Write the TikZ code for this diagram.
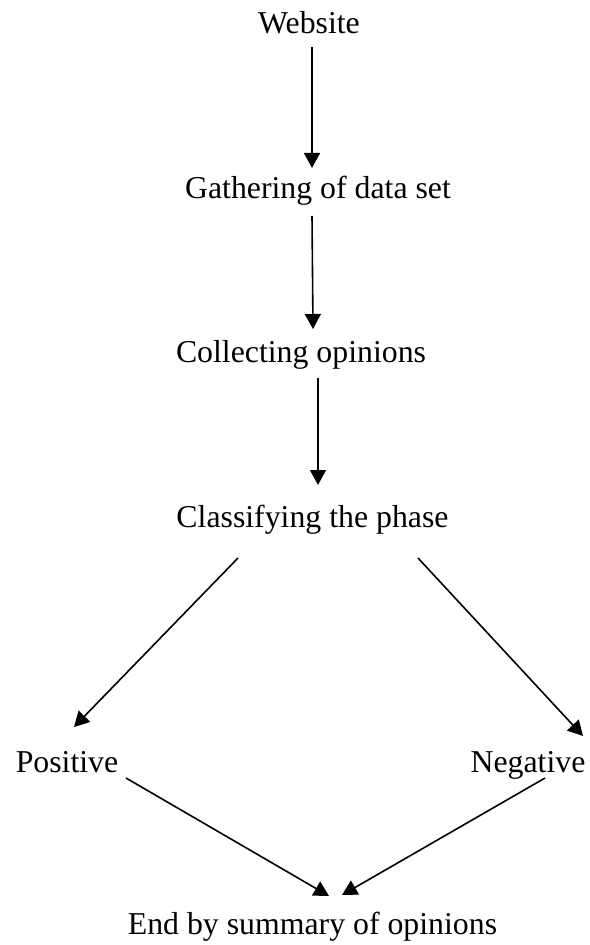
\documentclass[tikz,border=0pt]{standalone}
\usepackage{fontspec}
\setmainfont{Liberation Serif}
\usetikzlibrary{arrows.meta}
\begin{document}
\begin{tikzpicture}[x=0.5pt,y=-0.5pt,
  label/.style={anchor=base,inner sep=0pt,font=\fontsize{15.9pt}{19pt}\selectfont},
  flow/.style={line width=0.8pt,-{Triangle[length=7.5pt,width=8pt]}}]
\useasboundingbox (0,0) rectangle (589,945);

% stage labels
\node[label] (web) at (309,34)  {Website};
\node[label] (gat) at (318,199) {Gathering of data set};
\node[label] (col) at (301,363) {Collecting opinions};
\node[label] (cls) at (312.5,527) {Classifying the phase};
\node[label] (pos) at (67,772)  {Positive};
\node[label] (neg) at (528,772) {Negative};
\node[label] (end) at (312.5,934) {End by summary of opinions};

% connector end points
\coordinate (web-out) at (312,47);
\coordinate (gat-in)  at (312,168);
\coordinate (gat-out) at (312,216);
\coordinate (col-in)  at (313,329);
\coordinate (col-out) at (318,378);
\coordinate (cls-in)  at (318,485);
\coordinate (cls-l)   at (238,558);
\coordinate (cls-r)   at (418,558);
\coordinate (pos-in)  at (74,727);
\coordinate (neg-in)  at (583,736);
\coordinate (pos-out) at (126,778);
\coordinate (neg-out) at (545,778);
\coordinate (end-l)   at (329,896);
\coordinate (end-r)   at (342,895);

% connectors
\draw[flow] (web-out) -- (gat-in);
\draw[flow] (gat-out) -- (col-in);
\draw[flow] (col-out) -- (cls-in);
\draw[flow] (cls-l) -- (pos-in);
\draw[flow] (cls-r) -- (neg-in);
\draw[flow] (pos-out) -- (end-l);
\draw[flow] (neg-out) -- (end-r);
\end{tikzpicture}
\end{document}
